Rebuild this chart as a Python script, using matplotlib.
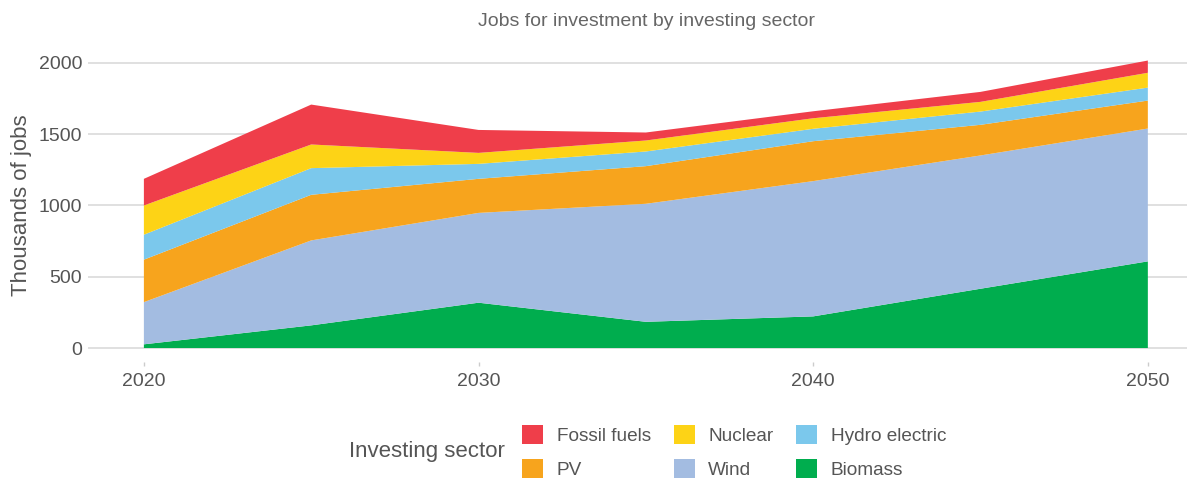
import matplotlib.pyplot as plt
from matplotlib.patches import Patch

plt.rcParams['font.family'] = ['Liberation Sans', 'DejaVu Sans']

years = [2020, 2025, 2030, 2035, 2040, 2045, 2050]
biomass = [26, 159, 318, 184, 222, 416, 608]
wind = [296, 596, 630, 828, 949, 935, 932]
pv = [298, 320, 239, 264, 280, 215, 196]
hydro = [175, 187, 105, 103, 87, 93, 91]
nuclear = [205, 166, 77, 77, 74, 68, 104]
fossil = [187, 280, 161, 56, 49, 70, 86]

names = ['Biomass', 'Wind', 'PV', 'Hydro electric', 'Nuclear', 'Fossil fuels']
colors = ['#00ad4e', '#a3bce1', '#f7a41d', '#7bc8ec', '#fdd316', '#ef3e4a']

fig = plt.figure(figsize=(11.87, 4.8), dpi=100)
ax = fig.add_axes([88/1187, 1-362/480, 1-88/1187, 322/480])

ax.stackplot(years, biomass, wind, pv, hydro, nuclear, fossil,
             colors=colors, linewidth=0, zorder=2)

ax.set_xlim(2018.33, 2051.17)
ax.set_ylim(-98, 2161)
ax.set_xticks([2020, 2030, 2040, 2050])
ax.set_yticks([0, 500, 1000, 1500, 2000])
ax.grid(axis='y', color='#dddddd', lw=1.3, zorder=0)
for s in ax.spines.values():
    s.set_visible(False)
ax.tick_params(axis='y', length=0, pad=4.3, labelsize=14, labelcolor='#555555')
ax.tick_params(axis='x', length=3, width=1, color='#cccccc', pad=5,
               labelsize=14, labelcolor='#555555')

fig.text(647/1187, 1-22/480, 'Jobs for investment by investing sector',
         ha='center', va='center', fontsize=14, color='#666666')
fig.text(22/1187, 1-205/480, 'Thousands of jobs', rotation=90,
         ha='center', va='center', fontsize=16, color='#555555')

# legend: columns fill top-down
order = [5, 2, 4, 1, 3, 0]
handles = [Patch(facecolor=colors[i], edgecolor='none') for i in order]
labels = [names[i] for i in order]
fig.legend(handles, labels, ncol=3, frameon=False, fontsize=13.7,
           loc='center left', bbox_to_anchor=(522/1187, 1-452/480),
           borderpad=0, borderaxespad=0, handlelength=1.1, handleheight=1.15,
           handletextpad=0.72, columnspacing=1.2, labelspacing=0.75,
           labelcolor='#555555')
fig.text(505/1187, 1-452/480, 'Investing sector', ha='right', va='center',
         fontsize=16, color='#555555')

plt.savefig('out.png', dpi=100)
